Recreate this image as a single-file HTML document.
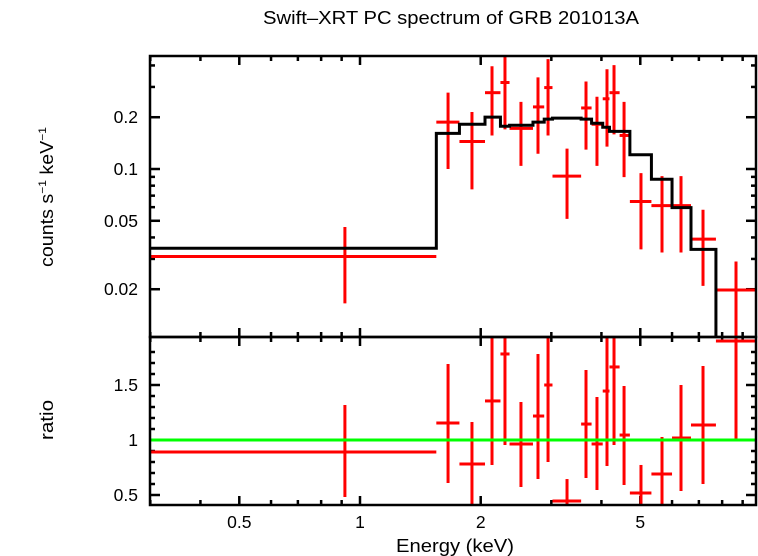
<!DOCTYPE html>
<html><head><meta charset="utf-8"><style>
body{margin:0;background:#fff;}
svg{display:block;font-family:"Liberation Sans",sans-serif;}
</style></head><body>
<svg id="chart" width="758" height="556" viewBox="0 0 758 556" xmlns="http://www.w3.org/2000/svg">
<defs>
<clipPath id="ctop"><rect x="150" y="56" width="606" height="281"/></clipPath>
<clipPath id="cbot"><rect x="150" y="337" width="606" height="168"/></clipPath>
</defs>
<text x="263" y="24" font-size="18" textLength="376" lengthAdjust="spacingAndGlyphs">Swift–XRT PC spectrum of GRB 201013A</text>
<text transform="translate(53,197) rotate(-90)" font-size="18" text-anchor="middle" textLength="140" lengthAdjust="spacingAndGlyphs">counts s<tspan font-size="11" dy="-7">−1</tspan><tspan dy="7"> keV</tspan><tspan font-size="11" dy="-7">−1</tspan></text>
<text transform="translate(53,420) rotate(-90)" font-size="18" text-anchor="middle" textLength="40" lengthAdjust="spacingAndGlyphs">ratio</text>
<text x="455" y="552" font-size="18" text-anchor="middle" textLength="118" lengthAdjust="spacingAndGlyphs">Energy (keV)</text>
<g id="g"></g>
</svg>
<script>
const binEdges=[0.30,1.55,1.77,2.05,2.24,2.36,2.70,2.88,3.02,3.56,3.78,4.03,4.19,4.44,4.71,5.33,6.0,6.69,7.72,9.75];
const binCenters=[0.917,1.658,1.902,2.134,2.299,2.520,2.779,2.944,3.283,3.661,3.899,4.130,4.300,4.555,5.020,5.664,6.317,7.168,8.663];
const counts=[0.0310,0.1872,0.1444,0.2778,0.3184,0.1724,0.2296,0.2974,0.0909,0.2264,0.1821,0.2560,0.2778,0.1567,0.0647,0.0612,0.0612,0.0391,0.0198];
const countsLo=[0.01656,0.1,0.0761,0.1567,0.1701,0.1042,0.1226,0.1567,0.0513,0.1296,0.1042,0.1349,0.1589,0.0897,0.0341,0.0327,0.0327,0.0209,0.0095];
const countsHi=[0.0460,0.2778,0.2145,0.3960,0.47,0.2458,0.3409,0.4355,0.1313,0.3227,0.2631,0.3802,0.4015,0.2458,0.0947,0.0909,0.0909,0.0580,0.0290];
const model=[0.0346,0.1611,0.1821,0.2004,0.1773,0.1797,0.1872,0.1950,0.1976,0.1950,0.1846,0.1748,0.1655,0.1655,0.1210,0.0872,0.0596,0.0341,0.005];
const ratio=[0.891,1.155,0.782,1.355,1.782,0.964,1.218,1.5,0.445,1.145,0.964,1.445,1.664,1.045,0.518,0.691,1.018,1.136,1.9];
const ratioLo=[0.482,0.609,0.40,0.773,0.955,0.573,0.645,0.8,0.39,0.655,0.545,0.764,0.955,0.591,0.39,0.39,0.536,0.6,1.009];
const ratioHi=[1.318,1.691,1.164,1.94,1.94,1.345,1.782,1.95,0.645,1.636,1.391,1.95,1.95,1.491,0.773,1.027,1.5,1.673,1.95];
const xTicksMajor=[0.5,1,2,5];
const yTopTicksMajor=[0.02,0.05,0.1,0.2];
const yBotTicksMajor=[0.5,1,1.5];

const NS='http://www.w3.org/2000/svg';
const G=document.getElementById('g');
const X0=150,X1=756,TT=56,TB=337,BT=337,BB=505;
function sx(e){return 360+401*Math.log10(e);}
function syT(c){return 169-172*(Math.log10(c)+1);}
function syB(r){return 440-110*(r-1);}
function el(tag,attrs,parent){const e=document.createElementNS(NS,tag);for(const k in attrs)e.setAttribute(k,attrs[k]);(parent||G).appendChild(e);return e;}
function line(x1,y1,x2,y2,col,w,parent){return el('line',{x1:x1,y1:y1,x2:x2,y2:y2,stroke:col,'stroke-width':w},parent);}

const ticks=el('g',{});


const xMinor=[0.3,0.4,0.6,0.7,0.8,0.9,3,4,6,7,8,9];
[[TT,TB],[BT,BB]].forEach(([t,b])=>{
  xTicksMajor.forEach(v=>{const x=sx(v);line(x,t,x,t+9,'#000',2.5,ticks);line(x,b,x,b-9,'#000',2.5,ticks);});
  xMinor.forEach(v=>{const x=sx(v);if(x<X0||x>X1)return;line(x,t,x,t+5,'#000',2.5,ticks);line(x,b,x,b-5,'#000',2.5,ticks);});
});
const yTopMinor=[0.01,0.03,0.04,0.06,0.07,0.08,0.09,0.3,0.4];
yTopTicksMajor.forEach(v=>{const y=syT(v);line(X0,y,X0+10,y,'#000',2.5,ticks);line(X1,y,X1-10,y,'#000',2.5,ticks);});
yTopMinor.forEach(v=>{const y=syT(v);if(y<TT||y>TB)return;line(X0,y,X0+5,y,'#000',2.5,ticks);line(X1,y,X1-5,y,'#000',2.5,ticks);});
for(let v=0.5;v<=1.9;v+=0.1){const y=syB(v);const maj=yBotTicksMajor.some(m=>Math.abs(m-v)<1e-6);const L=maj?10:5;line(X0,y,X0+L,y,'#000',2.5,ticks);line(X1,y,X1-L,y,'#000',2.5,ticks);}

xTicksMajor.forEach(v=>{const t=el('text',{x:sx(v),y:528,'font-size':17.5,'text-anchor':'middle'});t.textContent=String(v);

});
yTopTicksMajor.forEach(v=>{const t=el('text',{x:138,y:syT(v)+6,'font-size':17.5,'text-anchor':'end'});t.textContent=String(v);

});
yBotTicksMajor.forEach(v=>{const t=el('text',{x:138,y:syB(v)+6,'font-size':17.5,'text-anchor':'end'});t.textContent=String(v);

});

const topG=el('g',{'clip-path':'url(#ctop)'});


binCenters.forEach((c,i)=>{
  const g=el('g',{},topG);
  
  
  line(sx(binEdges[i]),syT(counts[i]),sx(binEdges[i+1]),syT(counts[i]),'#f00',3,g);
  line(sx(c),syT(countsLo[i]),sx(c),syT(countsHi[i]),'#f00',3,g);
});
let d='';
model.forEach((m,i)=>{const y=syT(m);d+=(i===0?'M':'L')+sx(binEdges[i])+','+y+'L'+sx(binEdges[i+1])+','+y;});
const mp=el('path',{d:d,fill:'none',stroke:'#000','stroke-width':3},topG);



const botG=el('g',{'clip-path':'url(#cbot)'});


binCenters.forEach((c,i)=>{
  const g=el('g',{},botG);
  
  
  line(sx(binEdges[i]),syB(ratio[i]),sx(binEdges[i+1]),syB(ratio[i]),'#f00',3,g);
  line(sx(c),syB(ratioLo[i]),sx(c),syB(ratioHi[i]),'#f00',3,g);
});
const ref=line(X0,syB(1),X1,syB(1),'#0f0',3,botG);



const f1=el('rect',{x:X0,y:TT,width:X1-X0,height:TB-TT,fill:'none',stroke:'#000','stroke-width':2.5});


const f2=el('rect',{x:X0,y:BT,width:X1-X0,height:BB-BT,fill:'none',stroke:'#000','stroke-width':2.5});


</script>
</body></html>
